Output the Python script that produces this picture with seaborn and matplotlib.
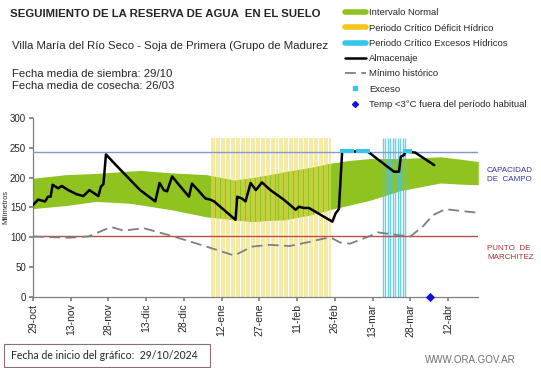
import numpy as np
import matplotlib
matplotlib.use("Agg")
import matplotlib.pyplot as plt
from matplotlib.lines import Line2D
from matplotlib.patches import Rectangle
import seaborn as sns

# ---------------------------------------------------------
# Datos (dias desde el 29/10/2024)
# ---------------------------------------------------------
tick_dias = [0, 15, 30, 45, 60, 75, 90, 105, 120, 135, 150, 165]
tick_labels = ["29-oct", "13-nov", "28-nov", "13-dic", "28-dic", "12-ene",
               "27-ene", "11-feb", "26-feb", "13-mar", "28-mar", "12-abr"]

# Intervalo normal (banda verde)
banda_dias = [0, 13, 25, 38, 43, 55, 69, 80, 87, 94, 100, 110, 118, 126,
              134, 146, 162, 170, 177]
banda_sup = [199, 205, 207, 211, 212, 208, 205, 196, 200, 205, 210, 217,
             224, 229, 232, 232, 235, 231, 227]
banda_inf = [148, 153, 160, 157, 154, 146, 134, 129, 126, 128, 129, 137,
             146, 154, 162, 178, 191, 189, 188]

# Almacenaje
alm_dias = [0, 2, 4.8, 6, 7, 7.8, 10, 11.4, 14, 17.4, 20, 22.4, 26, 27, 28,
            29, 33, 38, 42.6, 48.6, 50.3, 52, 53.3, 55.3, 58, 62, 63.2, 66,
            68.5, 70.5, 72, 80.5, 81.2, 83, 84.5, 86.5, 88.6, 91, 94.4, 99.7,
            104.4, 105.7, 107.7, 109.7, 119, 120.3, 121.6, 122.9, 133,
            143.5, 145.5, 146.2, 147.5, 148.2, 152, 159.5]
alm_mm = [154, 163, 160, 168, 168, 188, 182, 186, 179, 172, 169, 179, 169,
          185, 189, 239, 221, 199, 179, 160, 191, 179, 177, 202, 188, 168,
          190, 177, 165, 163, 160, 129, 168, 165, 160, 191, 179, 192, 179,
          163, 146, 151, 149, 149, 126, 140, 147, 244, 244, 210, 210, 235,
          238, 244, 242, 221]

# Minimo historico
min_dias = [0, 14, 22, 31, 36, 44, 56, 69, 80, 87, 94, 102, 110, 116, 119,
            122, 126, 134, 137, 144, 150, 155, 159, 164, 170, 177]
min_mm = [101, 99, 101, 117, 111, 115, 101, 84, 69, 84, 87, 85, 92, 98, 98,
          91, 89, 102, 108, 104, 101, 118, 137, 147, 144, 141]

# Exceso y temperatura
exceso_dias = [123, 124, 125, 126, 127, 129, 130, 131, 132, 133, 148, 149, 150]
exceso_mm = [244] * len(exceso_dias)
temp_dias = [158]
temp_mm = [0]

# Periodos criticos
deficit_dias = list(range(71, 119))
excesos_dias = list(range(139, 149))
periodo_tope = 267

capacidad_campo = 243
punto_marchitez = 102

# ---------------------------------------------------------
# Grafico
# ---------------------------------------------------------
sns.set_theme(style="ticks")
plt.rcParams["font.family"] = ["Liberation Sans", "DejaVu Sans"]

fig = plt.figure(figsize=(5.41, 3.68), dpi=100)
ax = fig.add_axes([0.061, 0.194, 0.823, 0.485])

verde = "#8fc31f"
ax.fill_between(banda_dias, banda_inf, banda_sup, color=verde, lw=0, zorder=1)

ax.vlines(deficit_dias, 0, periodo_tope, color="#eedc5a", lw=1.3, alpha=0.6, zorder=2)
ax.vlines(excesos_dias, 0, periodo_tope, color="#4cc4e2", lw=1.0, alpha=0.8, zorder=2)

ax.axhline(capacidad_campo, color="#7f9ccb", lw=1.0, zorder=3)
ax.axhline(punto_marchitez, color="#b5504a", lw=1.0, zorder=3)

sns.lineplot(x=min_dias, y=min_mm, ax=ax, color="#7f7f7f", lw=1.3,
             estimator=None, sort=False, zorder=4)
ax.lines[-1].set_dashes([6, 3])

sns.lineplot(x=alm_dias, y=alm_mm, ax=ax, color="black", lw=1.8,
             estimator=None, sort=False, zorder=5)

sns.scatterplot(x=exceso_dias, y=exceso_mm, ax=ax, color="#33c7ec", marker="s",
                s=9, linewidth=0, zorder=6)
sns.scatterplot(x=temp_dias, y=temp_mm, ax=ax, color="#1010e0", marker="D",
                s=22, linewidth=0, zorder=7, clip_on=False)

ax.set_xlim(0, 177)
ax.set_ylim(0, 300)
ax.set_yticks(range(0, 301, 50))
ax.set_xticks(tick_dias)
ax.set_xticklabels(tick_labels, rotation=90, fontsize=7.5)
ax.tick_params(axis="y", labelsize=7, length=3, pad=2, color="#808080")
ax.tick_params(axis="x", length=3, pad=2, color="#808080")
for s in ["top", "right"]:
    ax.spines[s].set_visible(False)
for s in ["left", "bottom"]:
    ax.spines[s].set_color("#808080")
    ax.spines[s].set_linewidth(0.9)
ax.set_ylabel("Milímetros", fontsize=5.3, va="center")
ax.yaxis.set_label_coords(-0.061, 0.5)

# Textos de cabecera
fig.text(0.018, 0.962, "SEGUIMIENTO DE LA RESERVA DE AGUA  EN EL SUELO",
         fontsize=8.2, fontweight="bold", va="center")
fig.text(0.022, 0.875, "Villa María del Río Seco - Soja de Primera (Grupo de Madurez",
         fontsize=8.2, va="center")
fig.text(0.022, 0.8, "Fecha media de siembra: 29/10", fontsize=8.2, va="center")
fig.text(0.022, 0.765, "Fecha media de cosecha: 26/03", fontsize=8.2, va="center")

# Etiquetas laterales
fig.text(0.9, 0.525, "CAPACIDAD\nDE  CAMPO", fontsize=5.8, color="#3434a8",
         va="center", linespacing=1.35)
fig.text(0.9, 0.312, "PUNTO  DE\nMARCHITEZ", fontsize=5.8, color="#a83030",
         va="center", linespacing=1.35)

# Leyenda
handles = [
    Line2D([], [], color=verde, lw=4),
    Line2D([], [], color="#f5c518", lw=4),
    Line2D([], [], color="#33c7ec", lw=4),
    Line2D([], [], color="black", lw=1.8),
    Line2D([], [], color="#7f7f7f", lw=1.3, dashes=[6, 3]),
    Line2D([], [], color="#33c7ec", marker="s", ms=2.5, lw=0),
    Line2D([], [], color="#1010e0", marker="D", ms=3, lw=0),
]
labels = ["Intervalo Normal", "Periodo Crítico Déficit Hídrico",
          "Periodo Crítico Excesos Hídricos", "Almacenaje", "Mínimo histórico",
          "Exceso", "Temp <3°C fuera del período habitual"]
fig.legend(handles, labels, loc="upper left", bbox_to_anchor=(0.625, 0.995),
           frameon=False, fontsize=6.8, handlelength=2.2, handletextpad=0.4,
           labelspacing=0.66, borderpad=0.2)

# Pie
fig.patches.append(Rectangle((0.0074, 0.003), 0.381, 0.062, transform=fig.transFigure,
                             fc="white", ec="#8a7070", lw=0.8))
fig.text(0.02, 0.034, "Fecha de inicio del gráfico:  29/10/2024", fontsize=7.6,
         family=["Lato", "DejaVu Sans"], va="center")
fig.text(0.785, 0.022, "WWW.ORA.GOV.AR", fontsize=7, color="#707070", va="center")

fig.savefig("out.png", dpi=100)
